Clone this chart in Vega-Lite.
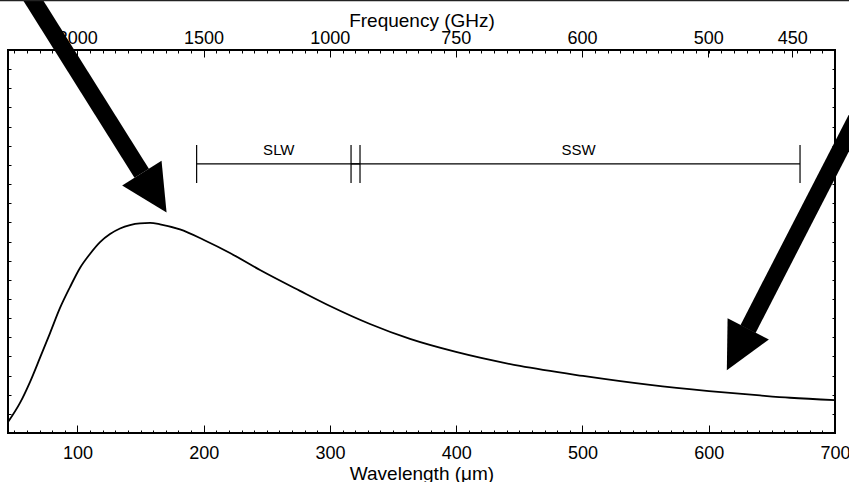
{
  "$schema": "https://vega.github.io/schema/vega-lite/v6.json",
  "width": 827,
  "height": 383,
  "autosize": {"type": "none"},
  "padding": {"left": 8, "top": 50, "right": 14, "bottom": 49},
  "background": "white",
  "config": {
    "view": {"stroke": "black", "strokeWidth": 2},
    "axis": {
      "domain": false, "grid": false, "tickColor": "black", "tickWidth": 1,
      "labelColor": "black", "titleColor": "black",
      "labelFont": "Liberation Sans", "titleFont": "Liberation Sans",
      "labelFontSize": 18, "titleFontSize": 19, "titleFontWeight": "normal",
      "labelFlush": false, "labelOverlap": false, "labelBound": false
    }
  },
  "datasets": {
    "curve": [
      {"wavelength": 45.0, "flux": 0.57},
      {"wavelength": 54.5, "flux": 1.57},
      {"wavelength": 62.4, "flux": 2.66},
      {"wavelength": 70.3, "flux": 3.92},
      {"wavelength": 78.3, "flux": 5.22},
      {"wavelength": 86.2, "flux": 6.53},
      {"wavelength": 94.1, "flux": 7.62},
      {"wavelength": 102.0, "flux": 8.62},
      {"wavelength": 109.9, "flux": 9.35},
      {"wavelength": 117.9, "flux": 9.97},
      {"wavelength": 125.8, "flux": 10.39},
      {"wavelength": 133.7, "flux": 10.68},
      {"wavelength": 141.6, "flux": 10.86},
      {"wavelength": 149.5, "flux": 10.95},
      {"wavelength": 157.5, "flux": 10.97},
      {"wavelength": 165.4, "flux": 10.90},
      {"wavelength": 181.2, "flux": 10.63},
      {"wavelength": 200.2, "flux": 10.08},
      {"wavelength": 220.8, "flux": 9.40},
      {"wavelength": 244.6, "flux": 8.51},
      {"wavelength": 276.3, "flux": 7.42},
      {"wavelength": 300.0, "flux": 6.63},
      {"wavelength": 331.7, "flux": 5.69},
      {"wavelength": 363.4, "flux": 4.91},
      {"wavelength": 399.8, "flux": 4.23},
      {"wavelength": 450.5, "flux": 3.50},
      {"wavelength": 500.4, "flux": 2.98},
      {"wavelength": 553.5, "flux": 2.51},
      {"wavelength": 600.2, "flux": 2.19},
      {"wavelength": 640.6, "flux": 1.96},
      {"wavelength": 664.4, "flux": 1.84},
      {"wavelength": 700.0, "flux": 1.72}
    ],
    "bands": [
      {"band": "SLW", "start": 194.4, "end": 323.8, "mid": 259.5, "level": 14.05, "low": 13.05, "high": 15.04},
      {"band": "SSW", "start": 316.7, "end": 672.3, "mid": 497.0, "level": 14.05, "low": 13.05, "high": 15.04}
    ],
    "arrows": [
      {"arrow": "left", "x0": 59.8, "y0": 23.13, "x1": 150.9, "y1": 13.56, "hx": 160.8, "hy": 12.54},
      {"arrow": "right", "x0": 727.7, "y0": 17.81, "x1": 631.1, "y1": 5.43, "hx": 622.8, "hy": 4.36}
    ],
    "frame": [
      {"x0": 38.0, "x1": 712.0, "y": 22.62}
    ]
  },
  "resolve": {
    "scale": {"x": "independent", "y": "independent"},
    "axis": {"x": "independent", "y": "independent"}
  },
  "layer": [
    {
      "data": {"name": "curve"},
      "mark": {"type": "line", "color": "black", "strokeWidth": 1.8, "interpolate": "monotone"},
      "encoding": {
        "x": {
          "field": "wavelength", "type": "quantitative",
          "scale": {"domain": [45, 700], "nice": false, "zero": false},
          "axis": {
            "orient": "bottom", "values": [100, 200, 300, 400, 500, 600, 700],
            "format": "d", "tickSize": -8, "labelPadding": 19,
            "title": "Wavelength (μm)", "titleY": 46, "titleBaseline": "alphabetic"
          }
        },
        "y": {
          "field": "flux", "type": "quantitative",
          "scale": {"domain": [0, 20], "nice": false, "zero": false},
          "axis": {
            "orient": "left", "values": [0,1,2,3,4,5,6,7,8,9,10,11,12,13,14,15,16,17,18,19,20],
            "tickSize": -3, "labels": false, "title": null
          }
        }
      }
    },
    {
      "data": {"name": "bands"},
      "mark": {"type": "rule", "color": "black", "strokeWidth": 1.2},
      "encoding": {
        "x": {
          "field": "start", "type": "quantitative",
          "scale": {"domain": [45, 700], "nice": false, "zero": false},
          "axis": {
            "orient": "bottom",
            "values": [50,60,70,80,90,100,110,120,130,140,150,160,170,180,190,200,210,220,230,240,250,260,270,280,290,300,310,320,330,340,350,360,370,380,390,400,410,420,430,440,450,460,470,480,490,500,510,520,530,540,550,560,570,580,590,600,610,620,630,640,650,660,670,680,690],
            "tickSize": -3, "labels": false, "title": null
          }
        },
        "x2": {"field": "end"},
        "y": {
          "field": "level", "type": "quantitative",
          "scale": {"domain": [0, 20], "nice": false, "zero": false},
          "axis": {
            "orient": "right", "values": [0,1,2,3,4,5,6,7,8,9,10,11,12,13,14,15,16,17,18,19,20],
            "tickSize": -3, "labels": false, "title": null
          }
        }
      }
    },
    {
      "data": {"name": "bands"},
      "transform": [{"fold": ["start", "end"], "as": ["edge", "pos"]}],
      "mark": {"type": "rule", "color": "black", "strokeWidth": 1.2},
      "encoding": {
        "x": {
          "field": "pos", "type": "quantitative",
          "scale": {"domain": [45, 700], "nice": false, "zero": false},
          "axis": {
            "orient": "top", "values": [99.93, 199.86, 299.79, 399.72, 499.65, 599.58, 666.21],
            "labelExpr": "format(299792.458 / datum.value, '.0f')",
            "tickSize": -7, "labelPadding": 10,
            "title": "Frequency (GHz)", "titleY": -24, "titleBaseline": "alphabetic"
          }
        },
        "y": {
          "field": "low", "type": "quantitative",
          "scale": {"domain": [0, 20], "nice": false, "zero": false},
          "axis": null
        },
        "y2": {"field": "high"}
      }
    },
    {
      "data": {"name": "bands"},
      "mark": {"type": "text", "font": "Liberation Sans", "fontSize": 15, "dy": -14, "baseline": "middle", "color": "black"},
      "encoding": {
        "x": {
          "field": "mid", "type": "quantitative",
          "scale": {"domain": [45, 700], "nice": false, "zero": false},
          "axis": {
            "orient": "top",
            "values": [50,60,70,80,90,100,110,120,130,140,150,160,170,180,190,200,210,220,230,240,250,260,270,280,290,300,310,320,330,340,350,360,370,380,390,400,410,420,430,440,450,460,470,480,490,500,510,520,530,540,550,560,570,580,590,600,610,620,630,640,650,660,670,680,690],
            "tickSize": -3, "labels": false, "title": null
          }
        },
        "y": {
          "field": "level", "type": "quantitative",
          "scale": {"domain": [0, 20], "nice": false, "zero": false},
          "axis": null
        },
        "text": {"field": "band"}
      }
    },
    {
      "data": {"name": "arrows"},
      "mark": {"type": "rule", "color": "black", "strokeWidth": 17, "strokeCap": "butt"},
      "encoding": {
        "x": {"field": "x0", "type": "quantitative", "scale": {"domain": [45, 700], "nice": false, "zero": false}, "axis": null},
        "x2": {"field": "x1"},
        "y": {"field": "y0", "type": "quantitative", "scale": {"domain": [0, 20], "nice": false, "zero": false}, "axis": null},
        "y2": {"field": "y1"}
      }
    },
    {
      "data": {"name": "arrows"},
      "transform": [{"filter": "datum.arrow === 'left'"}],
      "mark": {"type": "point", "shape": "M0,-1L1,1L-1,1Z", "size": 2162, "filled": true, "color": "black", "opacity": 1, "strokeWidth": 0, "angle": 147.9},
      "encoding": {
        "x": {"field": "hx", "type": "quantitative", "scale": {"domain": [45, 700], "nice": false, "zero": false}, "axis": null},
        "y": {"field": "hy", "type": "quantitative", "scale": {"domain": [0, 20], "nice": false, "zero": false}, "axis": null}
      }
    },
    {
      "data": {"name": "arrows"},
      "transform": [{"filter": "datum.arrow === 'right'"}],
      "mark": {"type": "point", "shape": "M0,-1L1,1L-1,1Z", "size": 2162, "filled": true, "color": "black", "opacity": 1, "strokeWidth": 0, "angle": 207.4},
      "encoding": {
        "x": {"field": "hx", "type": "quantitative", "scale": {"domain": [45, 700], "nice": false, "zero": false}, "axis": null},
        "y": {"field": "hy", "type": "quantitative", "scale": {"domain": [0, 20], "nice": false, "zero": false}, "axis": null}
      }
    },
    {
      "data": {"name": "frame"},
      "mark": {"type": "rule", "color": "#222222", "strokeWidth": 3},
      "encoding": {
        "x": {"field": "x0", "type": "quantitative", "scale": {"domain": [45, 700], "nice": false, "zero": false}, "axis": null},
        "x2": {"field": "x1"},
        "y": {"field": "y", "type": "quantitative", "scale": {"domain": [0, 20], "nice": false, "zero": false}, "axis": null}
      }
    }
  ]
}
